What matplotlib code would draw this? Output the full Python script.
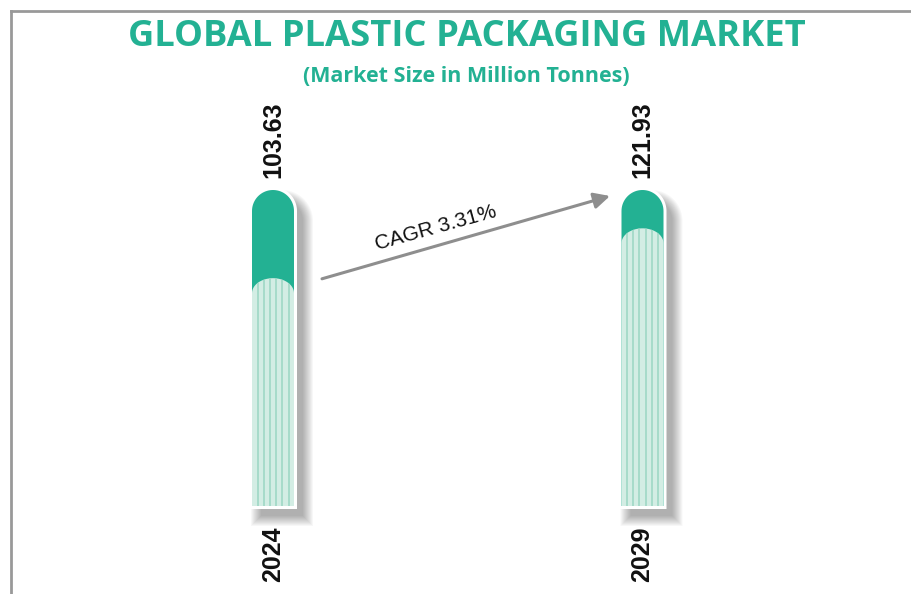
import numpy as np
import matplotlib
matplotlib.use("Agg")
import matplotlib.pyplot as plt
from matplotlib.patches import Polygon
from matplotlib.lines import Line2D

# data
years = ["2024", "2029"]
values = [103.63, 121.93]
value_labels = ["103.63", "121.93"]
cagr_text = "CAGR 3.31%"
title = "GLOBAL PLASTIC PACKAGING MARKET"
subtitle = "(Market Size in Million Tonnes)"

# style
TEAL = "#23b193"
LIGHT = "#d3ede4"
STRIPE = "#9fd8c5"
Y_MIN, Y_MAX = 20, 136          # tube spans the whole y-range
W, H = 911, 594

fig = plt.figure(figsize=(W / 100, H / 100), dpi=100)
fig.patch.set_facecolor("white")

ax_l, ax_b, ax_w, ax_h = 88.25, 88, 739, 316   # pixels
ax = fig.add_axes([ax_l / W, ax_b / H, ax_w / W, ax_h / H])
ax.set_xlim(-0.5, 1.5)
ax.set_ylim(Y_MIN, Y_MAX)
ax.axis("off")

# data units per pixel
dx = 2.0 / ax_w
dy = (Y_MAX - Y_MIN) / ax_h
half_w = 21  # px


def capsule(xc, y0, y1, hw, dome_h, grow=0.0, off=(0, 0)):
    # flat bottom, elliptic dome on top; sizes in px
    hw = hw + grow
    xc = xc + off[0] * dx
    y0 = y0 - grow * dy + off[1] * dy
    y1 = y1 + grow * dy + off[1] * dy
    dome = (dome_h + grow) * dy
    t = np.linspace(np.pi, 0, 40)
    xs = xc + hw * dx * np.cos(t)
    ys = (y1 - dome) + dome * np.sin(t)
    pts = [(xc - hw * dx, y0)] + list(zip(xs, ys)) + [(xc + hw * dx, y0)]
    return pts


for i, v in enumerate(values):
    # soft drop shadow, thrown to the right and down
    for g in range(10, -1, -1):
        ax.add_patch(Polygon(capsule(i, Y_MIN, Y_MAX, half_w, half_w, grow=g, off=(9, -10)),
                             closed=True, facecolor="black", edgecolor="none", alpha=0.03,
                             zorder=1, clip_on=False))
    # white rim
    ax.add_patch(Polygon(capsule(i, Y_MIN, Y_MAX, half_w, half_w, grow=3),
                         closed=True, facecolor="white", edgecolor="none", zorder=2, clip_on=False))
    # tube
    ax.add_patch(Polygon(capsule(i, Y_MIN, Y_MAX, half_w, half_w),
                         closed=True, facecolor=TEAL, edgecolor="none", zorder=3, clip_on=False))
    # value fill
    fill = Polygon(capsule(i, Y_MIN, v, half_w, 15),
                   closed=True, facecolor=LIGHT, edgecolor="none", zorder=4, clip_on=False)
    ax.add_patch(fill)
    for k in range(6):
        sx = i + (-15.5 + 6.2 * k) * dx
        ln = Line2D([sx, sx], [Y_MIN, v], color=STRIPE, lw=1.2, zorder=5)
        ax.add_line(ln)
        ln.set_clip_path(fill)

    ax.annotate(value_labels[i], (i, Y_MAX), xytext=(0, 12), textcoords="offset pixels",
                rotation=90, ha="center", va="bottom", fontsize=18, fontweight="bold",
                family="Liberation Sans", color="#111111")
    ax.annotate(years[i], (i, Y_MIN), xytext=(0, -20), textcoords="offset pixels",
                rotation=90, ha="center", va="top", fontsize=18, fontweight="bold",
                family="Liberation Sans", color="#111111")

# CAGR arrow
ax.annotate("", xy=(0.912, 133.8), xytext=(0.1326, 103.4),
            arrowprops=dict(arrowstyle="-|>", color="#8e8e8e", lw=2.2,
                            mutation_scale=24, shrinkA=0, shrinkB=0), zorder=6)
ax.text(0.441, 122.2, cagr_text, rotation=15.5, ha="center", va="center",
        fontsize=15, family="Liberation Sans", color="#111111",
        rotation_mode="anchor")

fig.text(466.5 / W, 1 - 37 / H, title, ha="center", va="center", fontsize=26.2,
         fontweight="bold", family="Open Sans", color=TEAL)
fig.text(466 / W, 1 - 76 / H, subtitle, ha="center", va="center", fontsize=15.5,
         fontweight="bold", family="Open Sans", color=TEAL)

# frame (top and left edges only visible)
fig.add_artist(Line2D([11 / W, 11 / W], [0, 1 - 11 / H], color="#999999", lw=2))
fig.add_artist(Line2D([11 / W, 1], [1 - 11 / H, 1 - 11 / H], color="#999999", lw=2))

fig.savefig("out.png", dpi=100)
